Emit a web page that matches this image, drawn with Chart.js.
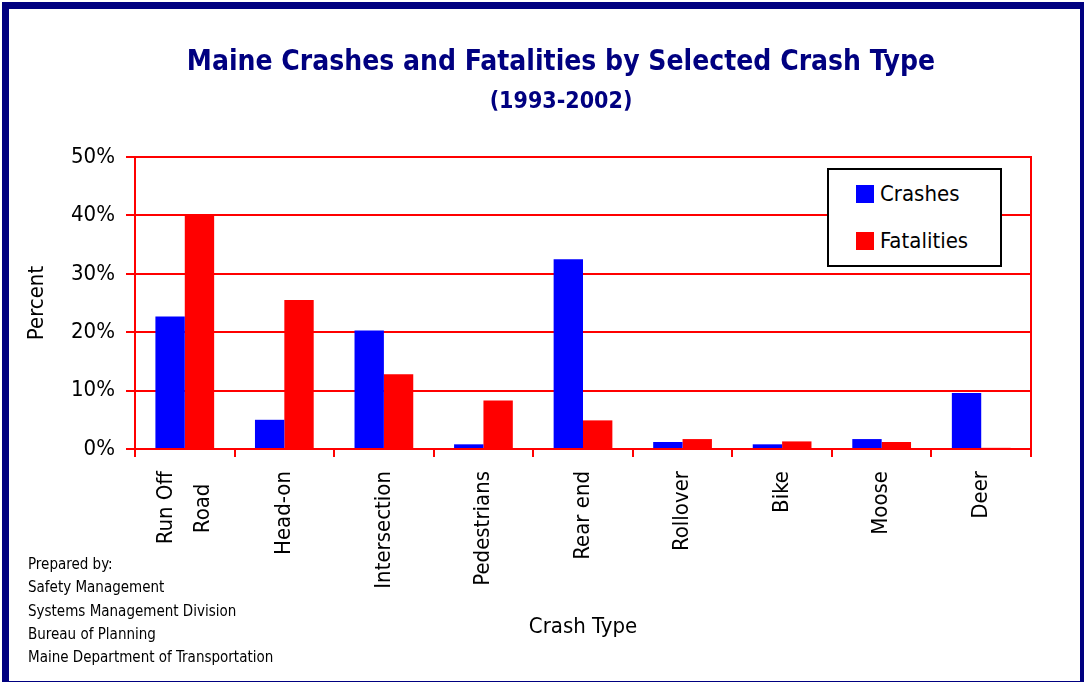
<!DOCTYPE html>
<html lang="en">

<head>
  <meta charset="utf-8">
  <title>Maine Crashes and Fatalities by Selected Crash Type</title>
  <script src="https://cdn.jsdelivr.net/npm/chart.js"></script>
  <style>
    body { margin: 0; background: #fff; font-family: 'DejaVu Sans Condensed', 'DejaVu Sans', sans-serif; }
    #wrap { position: relative; width: 1084px; height: 682px; overflow: hidden; }
    #frame {
      position: absolute; left: 2px; top: 2px; width: 1071px; height: 672px;
      border-style: solid; border-color: #000080; border-width: 7px 4px 8px 7px; pointer-events: none;
    }
    .title { position: absolute; left: 0; width: 1122px; text-align: center; color: #000080; font-weight: bold; }
    #t1 { top: 44px; font-size: 28px; }
    #t2 { top: 87px; font-size: 23px; }
    #legend {
      position: absolute; left: 827px; top: 168px; width: 171px; height: 95px;
      border: 2px solid #000; background: #fff;
    }
    .item { position: absolute; left: 27px; font-size: 22px; color: #000; line-height: 26px; }
    .item span { display: inline-block; width: 18px; height: 18px; margin-right: 6px; vertical-align: -2px; }
    #note { position: absolute; left: 28px; top: 553px; font-size: 15px; line-height: 23.3px; color: #000; }
  </style>
</head>

<body>
  <div id="wrap">
    <canvas id="chart" width="1084" height="682"></canvas>
    <div class="title" id="t1">Maine Crashes and Fatalities by Selected Crash Type</div>
    <div class="title" id="t2">(1993-2002)</div>
    <div id="legend"></div>
    <div id="note">
      Prepared by:<br>
      Safety Management<br>
      Systems Management Division<br>
      Bureau of Planning<br>
      Maine Department of Transportation
    </div>
    <div id="frame"></div>
  </div>

  <script>
    // valores (porcentaje)
    const crashTypes = [['Run Off', 'Road'], 'Head-on', 'Intersection', 'Pedestrians', 'Rear end', 'Rollover', 'Bike', 'Moose', 'Deer'];
    const crashes = [22.7, 5.0, 20.3, 0.8, 32.5, 1.2, 0.8, 1.7, 9.6];
    const fatalities = [40.0, 25.5, 12.8, 8.3, 4.9, 1.7, 1.3, 1.2, 0.2];
    const yTicks = [0, 10, 20, 30, 40, 50];

    const fuente = "'DejaVu Sans Condensed', 'DejaVu Sans', sans-serif";

    // marco rojo alrededor del area del grafico
    const marcoPlugin = {
      id: 'marco',
      beforeDraw(chart) {
        // las etiquetas de varias lineas quedan centradas en su categoria
        chart.scales.x.getLabelItems().forEach(function (item) {
          if (Array.isArray(item.label)) {
            let lh = item.font.lineHeight;
            item.textOffset = lh / 2 - (item.label.length - 1) * lh / 2;
          }
        });
      },
      afterDraw(chart) {
        const a = chart.chartArea;
        const ctx = chart.ctx;
        ctx.save();
        ctx.strokeStyle = '#ff0000';
        ctx.lineWidth = 2;
        ctx.strokeRect(a.left, a.top, a.right - a.left, a.bottom - a.top);
        ctx.restore();
      }
    };

    // centrar las lineas de las etiquetas de dos renglones
    function centrarLineas(label) {
      if (!Array.isArray(label)) return label;
      let largo = Math.max(...label.map(s => s.length));
      return label.map(s => s + ' '.repeat(Math.round((largo - s.length) * 0.7)));
    }

    let ctx = document.getElementById('chart').getContext('2d');
    let myChart = new Chart(ctx, {
      type: 'bar',
      data: {
        labels: crashTypes,
        datasets: [
          { label: 'Crashes', data: crashes, backgroundColor: '#0000ff' },
          { label: 'Fatalities', data: fatalities, backgroundColor: '#ff0000' }
        ]
      },
      options: {
        responsive: false,
        animation: false,
        layout: { padding: { top: 157, right: 53, bottom: 33, left: 0 } },
        datasets: { bar: { categoryPercentage: 0.59, barPercentage: 1.0 } },
        plugins: { legend: { display: false }, tooltip: { enabled: false } },
        scales: {
          x: {
            afterFit: function (scale) { scale.height = 200; },
            grid: { drawOnChartArea: false, color: '#ff0000', lineWidth: 2, tickLength: 8, offset: true },
            border: { color: '#ff0000', width: 2 },
            ticks: {
              color: '#000', minRotation: 90, maxRotation: 90, padding: 14,
              font: { family: fuente, size: 22, lineHeight: 1.65 },
              callback: function (value) { return centrarLineas(this.getLabelForValue(value)); }
            },
            title: {
              display: true, text: 'Crash Type', color: '#000',
              font: { family: fuente, size: 22 }, padding: { top: 0, bottom: 9 }
            }
          },
          y: {
            min: 0, max: 50,
            afterFit: function (scale) { scale.width = 135; },
            afterBuildTicks: function (scale) { scale.ticks = yTicks.map(v => ({ value: v })); },
            grid: { color: '#ff0000', lineWidth: 2, tickLength: 9 },
            border: { color: '#ff0000', width: 2 },
            ticks: {
              color: '#000', padding: 11,
              font: { family: fuente, size: 22 },
              callback: function (value) { return value + '%'; }
            },
            title: {
              display: true, text: 'Percent', color: '#000',
              font: { family: fuente, size: 22 }, padding: { top: 24, bottom: 0 }
            }
          }
        }
      },
      plugins: [marcoPlugin]
    });

    // leyenda en html con recuadro negro
    let leyenda = document.getElementById('legend');
    myChart.data.datasets.forEach(function (ds, i) {
      let item = document.createElement('div');
      item.className = 'item';
      item.style.top = (11 + i * 47) + 'px';
      item.innerHTML = '<span style="background:' + ds.backgroundColor + '"></span>' + ds.label;
      leyenda.appendChild(item);
    });
  </script>
</body>

</html>
